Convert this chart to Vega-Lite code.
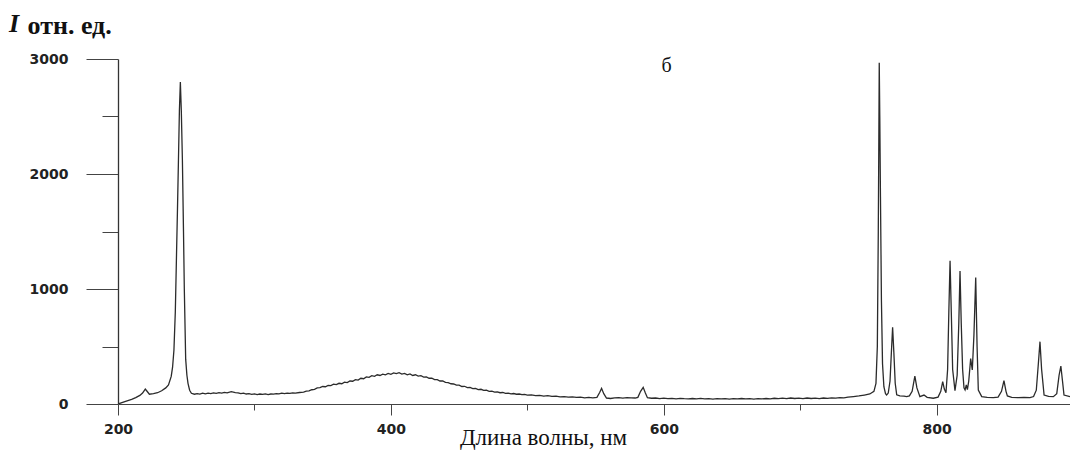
{
  "$schema": "https://vega.github.io/schema/vega-lite/v6.json",
  "width": 952,
  "height": 345,
  "autosize": {"type": "none"},
  "padding": {"left": 118, "top": 59, "right": 0, "bottom": 55},
  "background": "white",
  "config": {"view": {"stroke": null}},
  "title": {
    "text": "I",
    "anchor": "start",
    "frame": "bounds",
    "font": "Liberation Serif",
    "fontSize": 26,
    "fontStyle": "italic",
    "fontWeight": "bold",
    "color": "#111",
    "baseline": "alphabetic",
    "offset": 0,
    "dx": -18,
    "dy": 46
  },
  "layer": [
    {
      "data": {
        "values": [
          {"wl": 200, "I": 0}, {"wl": 205, "I": 20}, {"wl": 210, "I": 40}, {"wl": 213, "I": 55}, {"wl": 216, "I": 75}, {"wl": 218, "I": 95}, {"wl": 220, "I": 130}, {"wl": 221, "I": 115}, {"wl": 223, "I": 85}, {"wl": 226, "I": 90}, {"wl": 229, "I": 98}, {"wl": 232, "I": 115}, {"wl": 235, "I": 140}, {"wl": 237, "I": 165}, {"wl": 239, "I": 240}, {"wl": 240, "I": 320}, {"wl": 241, "I": 470}, {"wl": 242, "I": 800}, {"wl": 242.8, "I": 1250}, {"wl": 243.6, "I": 1700}, {"wl": 244.3, "I": 2120}, {"wl": 245, "I": 2550}, {"wl": 245.7, "I": 2800}, {"wl": 246.4, "I": 2550}, {"wl": 247.2, "I": 2120}, {"wl": 248, "I": 1500}, {"wl": 248.6, "I": 1000}, {"wl": 249.6, "I": 390}, {"wl": 250.5, "I": 250}, {"wl": 251.3, "I": 180}, {"wl": 252.5, "I": 120}, {"wl": 253.8, "I": 93}, {"wl": 256, "I": 85}, {"wl": 258, "I": 90}, {"wl": 260, "I": 86}, {"wl": 262, "I": 94}, {"wl": 264, "I": 88}, {"wl": 266, "I": 95}, {"wl": 268, "I": 91}, {"wl": 270, "I": 97}, {"wl": 272, "I": 92}, {"wl": 274, "I": 99}, {"wl": 276, "I": 94}, {"wl": 278, "I": 101}, {"wl": 280, "I": 97}, {"wl": 283, "I": 108}, {"wl": 286, "I": 99}, {"wl": 288, "I": 96}, {"wl": 290, "I": 91}, {"wl": 292, "I": 95}, {"wl": 294, "I": 87}, {"wl": 296, "I": 90}, {"wl": 298, "I": 84}, {"wl": 300, "I": 88}, {"wl": 302, "I": 82}, {"wl": 304, "I": 87}, {"wl": 306, "I": 83}, {"wl": 308, "I": 88}, {"wl": 310, "I": 82}, {"wl": 312, "I": 87}, {"wl": 314, "I": 86}, {"wl": 316, "I": 91}, {"wl": 318, "I": 88}, {"wl": 320, "I": 94}, {"wl": 322, "I": 90}, {"wl": 324, "I": 95}, {"wl": 326, "I": 92}, {"wl": 328, "I": 97}, {"wl": 330, "I": 94}, {"wl": 333, "I": 100}, {"wl": 336, "I": 104}, {"wl": 338, "I": 112}, {"wl": 340, "I": 114}, {"wl": 342, "I": 124}, {"wl": 344, "I": 128}, {"wl": 346, "I": 140}, {"wl": 348, "I": 142}, {"wl": 350, "I": 152}, {"wl": 352, "I": 150}, {"wl": 354, "I": 162}, {"wl": 356, "I": 160}, {"wl": 358, "I": 172}, {"wl": 360, "I": 168}, {"wl": 362, "I": 180}, {"wl": 364, "I": 176}, {"wl": 366, "I": 190}, {"wl": 368, "I": 186}, {"wl": 370, "I": 200}, {"wl": 372, "I": 198}, {"wl": 374, "I": 212}, {"wl": 376, "I": 208}, {"wl": 378, "I": 224}, {"wl": 380, "I": 220}, {"wl": 382, "I": 236}, {"wl": 384, "I": 232}, {"wl": 386, "I": 246}, {"wl": 388, "I": 240}, {"wl": 390, "I": 254}, {"wl": 392, "I": 248}, {"wl": 394, "I": 260}, {"wl": 396, "I": 254}, {"wl": 398, "I": 266}, {"wl": 400, "I": 258}, {"wl": 402, "I": 270}, {"wl": 404, "I": 264}, {"wl": 406, "I": 272}, {"wl": 408, "I": 260}, {"wl": 410, "I": 266}, {"wl": 412, "I": 254}, {"wl": 414, "I": 262}, {"wl": 416, "I": 248}, {"wl": 418, "I": 254}, {"wl": 420, "I": 242}, {"wl": 422, "I": 246}, {"wl": 424, "I": 234}, {"wl": 426, "I": 236}, {"wl": 428, "I": 224}, {"wl": 430, "I": 224}, {"wl": 432, "I": 212}, {"wl": 434, "I": 212}, {"wl": 436, "I": 200}, {"wl": 438, "I": 200}, {"wl": 440, "I": 188}, {"wl": 442, "I": 186}, {"wl": 444, "I": 176}, {"wl": 446, "I": 174}, {"wl": 448, "I": 164}, {"wl": 450, "I": 164}, {"wl": 452, "I": 152}, {"wl": 454, "I": 154}, {"wl": 456, "I": 142}, {"wl": 458, "I": 144}, {"wl": 460, "I": 133}, {"wl": 462, "I": 136}, {"wl": 464, "I": 125}, {"wl": 466, "I": 128}, {"wl": 468, "I": 118}, {"wl": 470, "I": 120}, {"wl": 472, "I": 110}, {"wl": 474, "I": 112}, {"wl": 476, "I": 103}, {"wl": 478, "I": 106}, {"wl": 480, "I": 98}, {"wl": 482, "I": 100}, {"wl": 484, "I": 93}, {"wl": 486, "I": 95}, {"wl": 488, "I": 88}, {"wl": 490, "I": 91}, {"wl": 492, "I": 85}, {"wl": 494, "I": 87}, {"wl": 496, "I": 81}, {"wl": 498, "I": 83}, {"wl": 500, "I": 77}, {"wl": 503, "I": 79}, {"wl": 506, "I": 73}, {"wl": 509, "I": 75}, {"wl": 512, "I": 69}, {"wl": 515, "I": 72}, {"wl": 518, "I": 66}, {"wl": 521, "I": 68}, {"wl": 524, "I": 62}, {"wl": 527, "I": 64}, {"wl": 530, "I": 59}, {"wl": 533, "I": 62}, {"wl": 536, "I": 57}, {"wl": 539, "I": 59}, {"wl": 542, "I": 54}, {"wl": 545, "I": 57}, {"wl": 548, "I": 53}, {"wl": 551, "I": 58}, {"wl": 553, "I": 100}, {"wl": 554.4, "I": 136}, {"wl": 556, "I": 90}, {"wl": 558, "I": 52}, {"wl": 561, "I": 48}, {"wl": 564, "I": 54}, {"wl": 567, "I": 56}, {"wl": 570, "I": 51}, {"wl": 573, "I": 56}, {"wl": 576, "I": 53}, {"wl": 579, "I": 52}, {"wl": 581, "I": 58}, {"wl": 583, "I": 110}, {"wl": 584.9, "I": 145}, {"wl": 586.5, "I": 95}, {"wl": 588, "I": 55}, {"wl": 591, "I": 50}, {"wl": 594, "I": 52}, {"wl": 597, "I": 47}, {"wl": 600, "I": 51}, {"wl": 603, "I": 46}, {"wl": 606, "I": 49}, {"wl": 609, "I": 45}, {"wl": 612, "I": 49}, {"wl": 615, "I": 46}, {"wl": 618, "I": 44}, {"wl": 621, "I": 48}, {"wl": 624, "I": 45}, {"wl": 627, "I": 49}, {"wl": 630, "I": 44}, {"wl": 633, "I": 47}, {"wl": 636, "I": 43}, {"wl": 639, "I": 47}, {"wl": 642, "I": 44}, {"wl": 645, "I": 46}, {"wl": 648, "I": 43}, {"wl": 651, "I": 47}, {"wl": 654, "I": 44}, {"wl": 657, "I": 48}, {"wl": 660, "I": 44}, {"wl": 663, "I": 47}, {"wl": 666, "I": 43}, {"wl": 669, "I": 46}, {"wl": 672, "I": 44}, {"wl": 675, "I": 48}, {"wl": 678, "I": 45}, {"wl": 681, "I": 50}, {"wl": 684, "I": 46}, {"wl": 687, "I": 51}, {"wl": 690, "I": 47}, {"wl": 693, "I": 52}, {"wl": 696, "I": 48}, {"wl": 699, "I": 51}, {"wl": 702, "I": 47}, {"wl": 705, "I": 52}, {"wl": 708, "I": 48}, {"wl": 711, "I": 51}, {"wl": 714, "I": 47}, {"wl": 717, "I": 52}, {"wl": 720, "I": 49}, {"wl": 723, "I": 53}, {"wl": 726, "I": 51}, {"wl": 729, "I": 55}, {"wl": 732, "I": 53}, {"wl": 735, "I": 59}, {"wl": 739, "I": 64}, {"wl": 743, "I": 70}, {"wl": 747, "I": 78}, {"wl": 751, "I": 87}, {"wl": 754, "I": 110}, {"wl": 755.5, "I": 180}, {"wl": 756.5, "I": 500}, {"wl": 757.2, "I": 1500}, {"wl": 757.5, "I": 2100}, {"wl": 757.9, "I": 2968}, {"wl": 758.3, "I": 2500}, {"wl": 758.8, "I": 1800}, {"wl": 759.5, "I": 900}, {"wl": 760.3, "I": 350}, {"wl": 761.3, "I": 150}, {"wl": 762.5, "I": 90}, {"wl": 763.3, "I": 78}, {"wl": 764.5, "I": 95}, {"wl": 765.8, "I": 200}, {"wl": 766.8, "I": 450}, {"wl": 767.7, "I": 667}, {"wl": 768.6, "I": 450}, {"wl": 769.6, "I": 180}, {"wl": 770.7, "I": 80}, {"wl": 773, "I": 70}, {"wl": 776, "I": 68}, {"wl": 778, "I": 64}, {"wl": 780, "I": 70}, {"wl": 782, "I": 110}, {"wl": 784, "I": 243}, {"wl": 785.5, "I": 140}, {"wl": 787.7, "I": 64}, {"wl": 790.7, "I": 78}, {"wl": 793, "I": 58}, {"wl": 797.5, "I": 50}, {"wl": 801, "I": 60}, {"wl": 803, "I": 110}, {"wl": 804.4, "I": 194}, {"wl": 805.6, "I": 130}, {"wl": 806.8, "I": 98}, {"wl": 808, "I": 300}, {"wl": 808.9, "I": 800}, {"wl": 809.8, "I": 1245}, {"wl": 810.7, "I": 800}, {"wl": 811.7, "I": 300}, {"wl": 813.4, "I": 116}, {"wl": 815, "I": 250}, {"wl": 816.2, "I": 700}, {"wl": 817.1, "I": 1157}, {"wl": 818, "I": 700}, {"wl": 819, "I": 300}, {"wl": 820, "I": 140}, {"wl": 820.8, "I": 122}, {"wl": 821.7, "I": 165}, {"wl": 822.5, "I": 125}, {"wl": 823.5, "I": 200}, {"wl": 824.9, "I": 395}, {"wl": 826.1, "I": 296}, {"wl": 827.3, "I": 600}, {"wl": 828.6, "I": 1099}, {"wl": 829.6, "I": 500}, {"wl": 830.5, "I": 122}, {"wl": 833, "I": 64}, {"wl": 837, "I": 58}, {"wl": 841.5, "I": 55}, {"wl": 845, "I": 60}, {"wl": 847.5, "I": 110}, {"wl": 849.3, "I": 203}, {"wl": 850.8, "I": 110}, {"wl": 851.8, "I": 70}, {"wl": 855, "I": 58}, {"wl": 860, "I": 55}, {"wl": 864, "I": 58}, {"wl": 868.4, "I": 55}, {"wl": 871, "I": 65}, {"wl": 873, "I": 120}, {"wl": 874.5, "I": 350}, {"wl": 875.7, "I": 542}, {"wl": 876.9, "I": 300}, {"wl": 878.7, "I": 78}, {"wl": 882, "I": 66}, {"wl": 885.5, "I": 64}, {"wl": 888, "I": 90}, {"wl": 889.7, "I": 250}, {"wl": 891, "I": 330}, {"wl": 892.2, "I": 200}, {"wl": 893.3, "I": 78}, {"wl": 897.7, "I": 64}
        ]
      },
      "mark": {"type": "line", "color": "#2b2b2b", "strokeWidth": 1.3, "clip": true},
      "encoding": {
        "x": {
          "field": "wl",
          "type": "quantitative",
          "scale": {"domain": [200, 897.7], "nice": false, "zero": false},
          "axis": {
            "title": "Длина волны, нм",
            "titleFont": "Liberation Serif",
            "titleFontSize": 23,
            "titleFontWeight": "normal",
            "titleColor": "#111",
            "titleX": 425,
            "titleY": 40,
            "titleAlign": "center",
            "titleBaseline": "alphabetic",
            "values": [200, 300, 400, 500, 600, 700, 800],
            "labelExpr": "datum.value % 200 === 0 ? datum.label : ''",
            "labelFont": "DejaVu Sans",
            "labelFontSize": 14,
            "labelFontWeight": "bold",
            "labelColor": "#222",
            "labelPadding": 7,
            "labelFlush": false,
            "grid": false,
            "domainColor": "#444",
            "domainWidth": 1,
            "tickColor": "#444",
            "tickWidth": 1,
            "tickSize": {"condition": {"test": "datum.value % 200 === 0", "value": 11}, "value": 6}
          }
        },
        "y": {
          "field": "I",
          "type": "quantitative",
          "scale": {"domain": [0, 3000], "nice": false},
          "axis": {
            "title": "отн. ед.",
            "titleFont": "Liberation Serif",
            "titleFontSize": 26,
            "titleFontWeight": "bold",
            "titleColor": "#111",
            "titleAngle": 0,
            "titleX": -91,
            "titleY": -26,
            "titleAlign": "left",
            "titleBaseline": "alphabetic",
            "values": [0, 500, 1000, 1500, 2000, 2500, 3000],
            "labelExpr": "datum.value % 1000 === 0 ? datum.label : ''",
            "format": "d",
            "labelFont": "DejaVu Sans",
            "labelFontSize": 14,
            "labelFontWeight": "bold",
            "labelColor": "#222",
            "labelPadding": 18,
            "labelFlush": false,
            "grid": false,
            "domainColor": "#333",
            "domainWidth": 1.3,
            "tickColor": "#444",
            "tickWidth": 1,
            "tickSize": {"condition": {"test": "datum.value % 1000 === 0", "value": 32}, "value": 16}
          }
        }
      }
    },
    {
      "data": {"values": [{"wl": 602, "I": 2887, "t": "б"}]},
      "mark": {"type": "text", "font": "Liberation Serif", "fontSize": 20, "color": "#111", "baseline": "alphabetic", "align": "center"},
      "encoding": {
        "x": {"field": "wl", "type": "quantitative"},
        "y": {"field": "I", "type": "quantitative"},
        "text": {"field": "t"}
      }
    }
  ]
}
